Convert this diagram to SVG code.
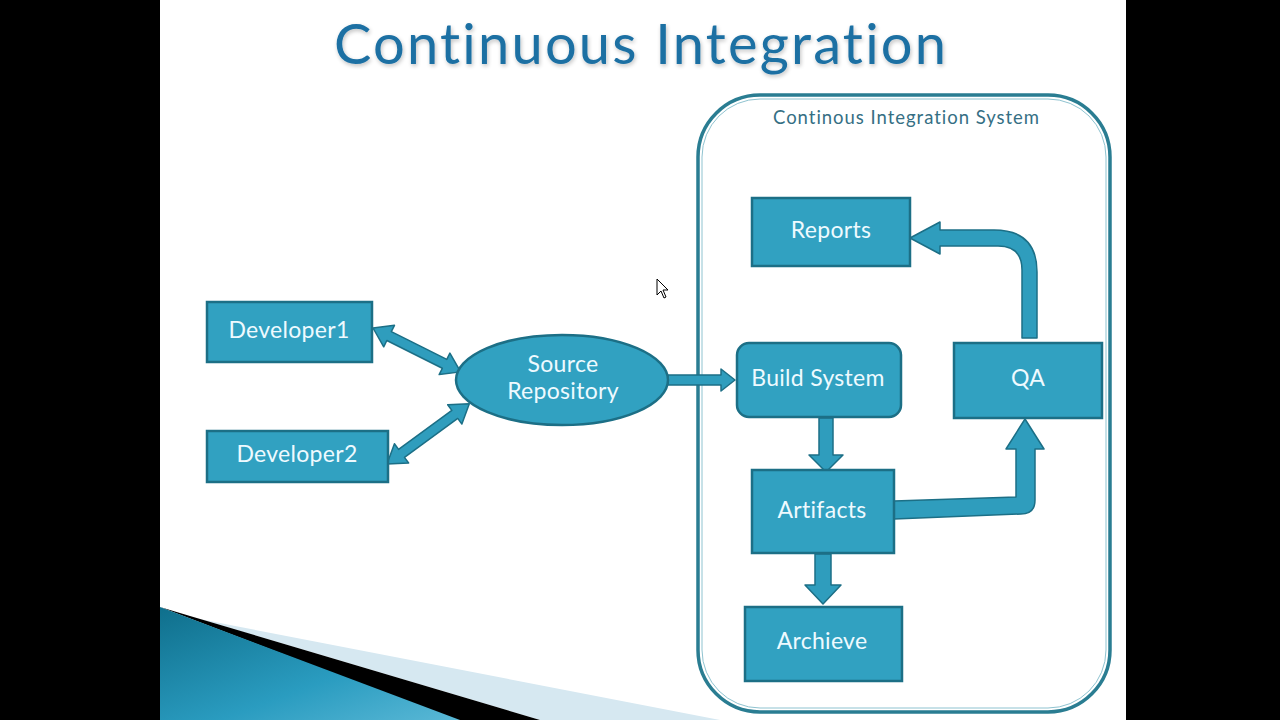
<svg xmlns="http://www.w3.org/2000/svg" width="1280" height="720" viewBox="0 0 1280 720">
<defs>
<style>
text{font-variant-ligatures:none;font-feature-settings:"liga" 0}
.node{fill:#31a1c1;stroke:#1c6f86;stroke-width:2.5}
.arr{fill:#2f9dbd;stroke:#1c6f86;stroke-width:1.5;stroke-linejoin:round}
.lbl{font-family:"Lato","Open Sans",sans-serif;font-size:23px;fill:#eefaff;text-anchor:middle;letter-spacing:0.3px}
</style>
<linearGradient id="tealg" x1="0" y1="0" x2="1" y2="1">
<stop offset="0" stop-color="#0f6f8c"/>
<stop offset="0.6" stop-color="#2a9cc0"/>
<stop offset="1" stop-color="#5ab8d6"/>
</linearGradient>
<filter id="glow" x="-5%" y="-20%" width="110%" height="140%">
<feGaussianBlur in="SourceAlpha" stdDeviation="2"/>
<feOffset dx="1" dy="2"/>
<feComponentTransfer><feFuncA type="linear" slope="0.25"/></feComponentTransfer>
<feMerge><feMergeNode/><feMergeNode in="SourceGraphic"/></feMerge>
</filter>
</defs>
<rect x="0" y="0" width="1280" height="720" fill="#000"/>
<rect x="160" y="0" width="966" height="720" fill="#fff"/>
<g id="decoration">
<polygon points="230,625 720,720 540,720 200,619" fill="#d6e8f1"/>
<polygon points="190,616 540,720 455,720 160,607" fill="#000"/>
<polygon points="160,607 460,720 160,720" fill="url(#tealg)"/>
</g>
<text x="640" y="64" font-family="Lato,'Open Sans',sans-serif" font-size="56" fill="#1b6fa3" text-anchor="middle" textLength="612" lengthAdjust="spacing" filter="url(#glow)">Continuous Integration</text>
<g id="ci-system">
<rect x="698" y="95" width="412" height="617" rx="62" fill="none" stroke="#2a7d92" stroke-width="3.5"/>
<rect x="702" y="99" width="404" height="609" rx="58" fill="none" stroke="#8fc3d0" stroke-width="1"/>
<text x="906" y="124" font-family="Lato,'Open Sans',sans-serif" font-size="18.5" fill="#356f84" text-anchor="middle" textLength="266" lengthAdjust="spacing">Continous Integration System</text>
</g>
<g id="connectors">
<path class="arr" transform="translate(373,328) rotate(26.6)" d="M0,0 L18,-12 L18,-5 L80,-5 L80,-12 L98,0 L80,12 L80,5 L18,5 L18,12 Z"/>
<path class="arr" transform="translate(387,464) rotate(-36.2)" d="M0,0 L18,-12 L18,-5 L84,-5 L84,-12 L102,0 L84,12 L84,5 L18,5 L18,12 Z"/>
<path class="arr" d="M668,375 L721,375 L721,369 L735,380 L721,391 L721,385 L668,385 Z"/>
<path class="arr" d="M819,418 L833,418 L833,455 L843,455 L826,472 L809,455 L819,455 Z"/>
<path class="arr" d="M815,554 L831,554 L831,585 L841,585 L823,604 L805,585 L815,585 Z"/>
<path class="arr" d="M894,501 L1016,497 L1016,449 L1006,449 L1025,419 L1044,449 L1035,449 L1035,500 Q1035,514 1021,514 L894,519 Z"/>
<path class="arr" d="M1022,338 L1022,270 Q1022,246 998,246 L940,246 L940,254 L910,238 L940,222 L940,230 L994,230 Q1037,230 1037,272 L1037,338 Z"/>
</g>
<g id="developer1">
<rect class="node" x="207" y="302" width="165" height="60"/>
<text class="lbl" x="289" y="338">Developer1</text>
</g>
<g id="developer2">
<rect class="node" x="207" y="431" width="181" height="51"/>
<text class="lbl" x="297" y="462">Developer2</text>
</g>
<g id="source-repository">
<ellipse class="node" cx="562" cy="380" rx="106" ry="45"/>
<text class="lbl" x="563" y="372">Source</text>
<text class="lbl" x="563" y="399">Repository</text>
</g>
<g id="build-system">
<rect class="node" x="737" y="343" width="164" height="74" rx="12"/>
<text class="lbl" x="818" y="386">Build System</text>
</g>
<g id="qa">
<rect class="node" x="954" y="343" width="148" height="75"/>
<text class="lbl" x="1028" y="386">QA</text>
</g>
<g id="reports">
<rect class="node" x="752" y="198" width="158" height="68"/>
<text class="lbl" x="831" y="238">Reports</text>
</g>
<g id="artifacts">
<rect class="node" x="752" y="470" width="142" height="83"/>
<text class="lbl" x="822" y="518">Artifacts</text>
</g>
<g id="archieve">
<rect class="node" x="745" y="607" width="157" height="74"/>
<text class="lbl" x="822" y="649">Archieve</text>
</g>
<path d="M657,279 L657,295 L661,291 L664,298 L666,297 L663,290 L668,290 Z" fill="#fff" stroke="#000" stroke-width="1"/>
</svg>
